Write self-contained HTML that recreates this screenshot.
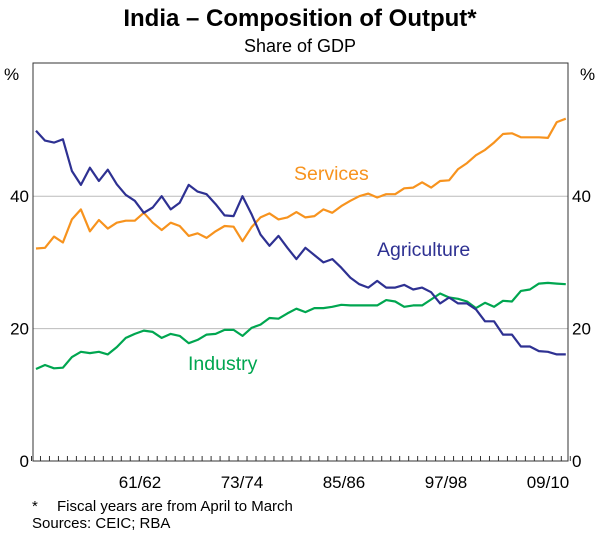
<!DOCTYPE html>
<html><head><meta charset="utf-8"><style>
body{margin:0;background:#fff;}
svg{display:block;font-family:"Liberation Sans",Arial,sans-serif;}
</style></head><body>
<svg id="chart" width="600" height="536" viewBox="0 0 600 536">
<text x="300" y="26" text-anchor="middle" font-size="24" font-weight="bold">India – Composition of Output*</text>
<text x="300" y="52" text-anchor="middle" font-size="18">Share of GDP</text>
<g id="grid"></g>
<g id="series"></g>
<rect x="33" y="63" width="535" height="398" fill="none" stroke="#333" stroke-width="1"/>
<g id="axes"></g>
<text x="294" y="180" font-size="19.5" fill="#f7931e">Services</text>
<text x="377" y="256" font-size="19.5" fill="#2e3192">Agriculture</text>
<text x="188" y="370" font-size="19.5" fill="#00a650">Industry</text>
<text x="32" y="511" font-size="15">*</text>
<text x="57" y="511" font-size="15">Fiscal years are from April to March</text>
<text x="32" y="528" font-size="15">Sources: CEIC; RBA</text>
</svg>
<script>
const agriculture=[49.9,48.4,48.1,48.6,43.8,41.7,44.3,42.3,44.0,41.8,40.2,39.3,37.5,38.3,40.0,38.0,39.0,41.7,40.7,40.3,38.8,37.1,37.0,40.0,37.3,34.2,32.5,34.0,32.2,30.5,
32.2,31.1,30.0,30.5,29.2,27.7,26.7,26.2,27.2,26.2,26.2,26.6,25.9,26.2,25.5,23.8,24.7,23.8,23.8,22.9,21.1,21.1,19.1,19.1,17.3,17.3,16.6,16.5,16.1,16.1];
const services=[32.1,32.2,33.9,33.0,36.5,38.0,34.7,36.4,35.1,36.0,36.3,36.3,37.5,36.0,34.9,36.0,35.5,34.0,34.4,33.7,34.7,35.5,35.4,33.2,35.3,36.8,37.4,36.5,36.8,37.6,
36.8,37.0,38.0,37.5,38.5,39.3,40.0,40.4,39.8,40.3,40.3,41.2,41.3,42.1,41.3,42.3,42.4,44.1,45.0,46.2,47.0,48.1,49.4,49.5,48.9,48.9,48.9,48.8,51.2,51.7];
const industry=[13.9,14.5,14.0,14.1,15.7,16.5,16.3,16.5,16.1,17.2,18.6,19.2,19.7,19.5,18.6,19.2,18.9,17.8,18.3,19.1,19.2,19.8,19.8,18.9,20.1,20.6,21.6,21.5,22.3,23.0,
22.5,23.1,23.1,23.3,23.6,23.5,23.5,23.5,23.5,24.3,24.1,23.3,23.5,23.5,24.4,25.3,24.7,24.5,24.1,23.1,23.9,23.3,24.2,24.1,25.7,25.9,26.8,26.9,26.8,26.7];
const yTicks=[0,20,40];
const xLabels=["61/62","73/74","85/86","97/98","09/10"];
const xLabelIdx=[11,23,35,47,59];

const NS="http://www.w3.org/2000/svg";
function x(i){return 36+i*8.98;}
function y(v){return 461-v*6.62;}
function xl(i){return 140+(i-11)*8.5;}
function mk(tag,attrs,parent){const e=document.createElementNS(NS,tag);for(const k in attrs)e.setAttribute(k,attrs[k]);parent.appendChild(e);return e;}
const grid=document.getElementById('grid'),axes=document.getElementById('axes'),ser=document.getElementById('series');
yTicks.forEach(v=>{
  if(v>0){const g=mk('line',{x1:33,x2:568,y1:y(v),y2:y(v),stroke:'#bbb','stroke-width':1},grid);
  
  }
  const l=mk('text',{x:29,y:y(v)+6,'text-anchor':'end','font-size':17},axes);l.textContent=v;
  
  
  const r=mk('text',{x:572,y:y(v)+6,'font-size':17},axes);r.textContent=v;
  
  
});
const pl=mk('text',{x:4,y:80,'font-size':17},axes);pl.textContent='%';


const pr=mk('text',{x:580,y:80,'font-size':17},axes);pr.textContent='%';


for(let i=0;i<=agriculture.length;i++){
  const t=mk('line',{x1:x(i)-4.5,x2:x(i)-4.5,y1:461,y2:456,stroke:'#333','stroke-width':1},axes);
  
  
}
xLabels.forEach((s,k)=>{
  const t=mk('text',{x:xl(xLabelIdx[k]),y:488,'text-anchor':'middle','font-size':17},axes);t.textContent=s;
  
  
});
function line(arr,color,name){
  const d=arr.map((v,i)=>(i?'L':'M')+x(i).toFixed(1)+' '+y(v).toFixed(1)).join(' ');
  const p=mk('path',{d:d,fill:'none',stroke:color,'stroke-width':2.2,'stroke-linejoin':'round'},ser);
  
  
}
line(industry,'#00a650','industry-line');
line(services,'#f7931e','services-line');
line(agriculture,'#2e3192','agriculture-line');
</script>
</body></html>
